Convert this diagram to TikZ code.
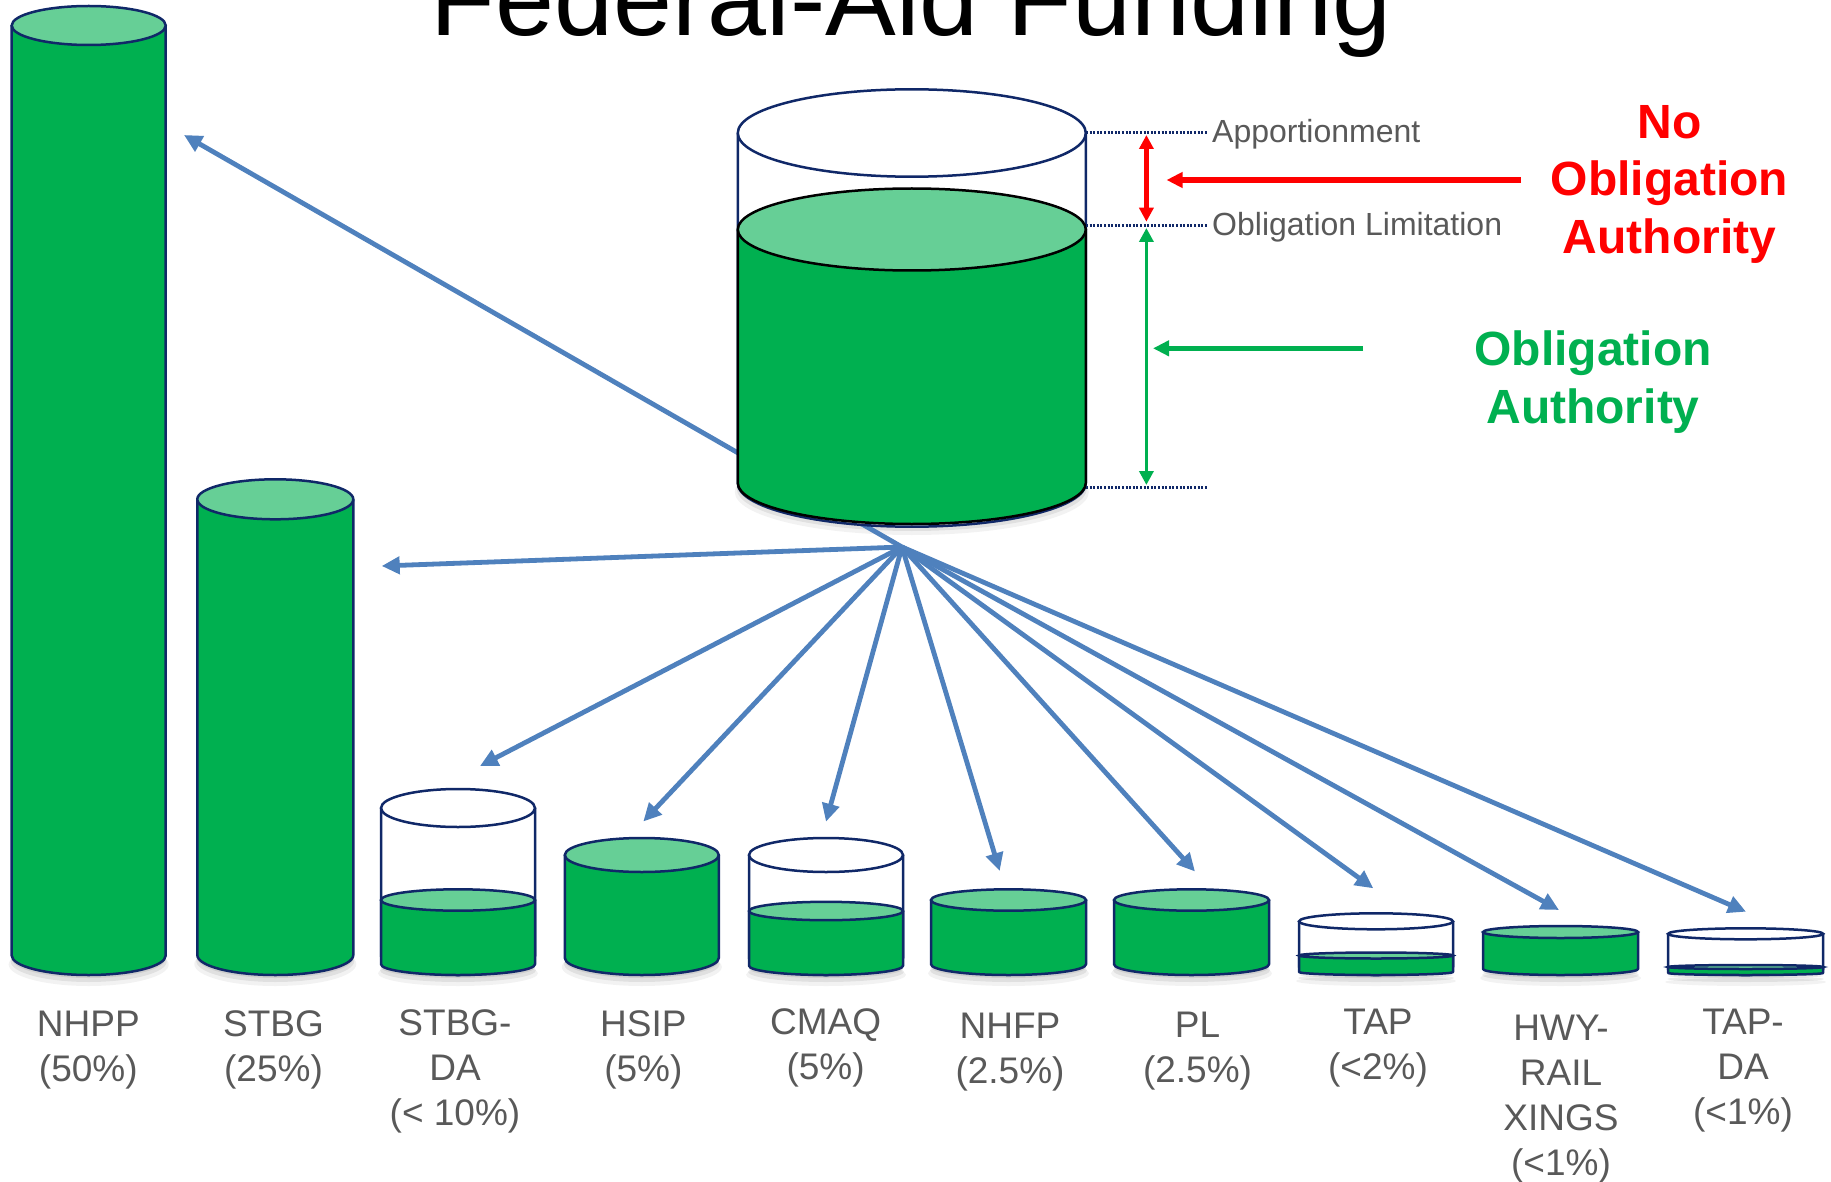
\documentclass[tikz,border=0pt]{standalone}
\usepackage{fontspec}
\setmainfont{Liberation Sans}
\usetikzlibrary{arrows.meta}
\definecolor{cgreen}{HTML}{00B050}
\definecolor{ctop}{HTML}{66CF96}
\definecolor{cnavy}{HTML}{102868}
\definecolor{cblue}{HTML}{4F81BD}
\definecolor{cgray}{HTML}{595959}
\definecolor{cred}{HTML}{FF0000}
% cx, yt, yb, rx, ry, body fill, top fill, line colour
\newcommand{\mycan}[8]{%
  \fill[#6] (#1-#4,#2) -- (#1-#4,#3) arc[start angle=180,end angle=360,x radius=#4pt,y radius=#5pt] -- (#1+#4,#2) -- cycle;
  \draw[#8, line width=2.5pt, line join=round] (#1-#4,#2) -- (#1-#4,#3) arc[start angle=180,end angle=360,x radius=#4pt,y radius=#5pt] -- (#1+#4,#2);
  \filldraw[fill=#7, draw=#8, line width=2.5pt] (#1,#2) ellipse [x radius=#4pt, y radius=#5pt];
}
% cx, yb, rx, ry
\newcommand{\myshadow}[4]{%
  \fill[black, opacity=0.05] (#1,#2+9) ellipse [x radius=#3pt+3pt, y radius=#4pt+2pt];
  \fill[black, opacity=0.07] (#1,#2+6) ellipse [x radius=#3pt+1pt, y radius=#4pt+1pt];
  \fill[black, opacity=0.08] (#1,#2+3) ellipse [x radius=#3pt, y radius=#4pt];
}
\tikzset{
  bluearrow/.style={draw=cblue, line width=4.8pt, -{Triangle[length=18pt,width=17pt]}},
  guide/.style={draw=cnavy, line width=2.5pt, dash pattern=on 2pt off 1.6pt},
  canlabel/.style={font=\fontsize{37}{45}\selectfont, text=cgray, align=center, anchor=north, inner sep=0pt},
  sidelabel/.style={font=\fontsize{32}{38}\selectfont, text=cgray, anchor=base west, inner sep=0pt},
  bigred/.style={font=\fontsize{48}{57.8}\selectfont\bfseries, text=cred, align=center, anchor=north, inner sep=0pt},
  biggreen/.style={font=\fontsize{48}{57.7}\selectfont\bfseries, text=cgreen, align=center, anchor=north, inner sep=0pt},
}
\begin{document}
\begin{tikzpicture}[x=1pt,y=-1pt]
\useasboundingbox (0,0) rectangle (1831,1182);
\fill[white] (0,0) rectangle (1831,1182);

% shadows
\myshadow{88.7}{955.5}{77}{19.5}
\myshadow{275.3}{955}{78}{20}
\myshadow{458}{964.3}{77}{10.7}
\myshadow{641.8}{958}{77}{17}
\myshadow{826}{965.8}{77}{9.2}
\myshadow{1008.5}{964.3}{77.5}{10.7}
\myshadow{1191.5}{964.3}{77.5}{10.7}
\myshadow{1376}{972}{77}{3}
\myshadow{1560.5}{969}{77.5}{6}
\myshadow{1745.6}{973}{77.5}{2}
\myshadow{911.8}{483}{174}{41}

% hub and arrow tips
\coordinate (hub) at (902,547);
\coordinate (tNHPP) at (184,135);
\coordinate (tSTBG) at (381.7,566);
\coordinate (tSTBGDA) at (480,766);
\coordinate (tHSIP) at (643.3,821.5);
\coordinate (tCMAQ) at (826,821.7);
\coordinate (tNHFP) at (999.7,871);
\coordinate (tPL) at (1195,871.5);
\coordinate (tTAP) at (1373.3,888.3);
\coordinate (tHWY) at (1559,910);
\coordinate (tTAPDA) at (1746,911.7);
\foreach \t in {tNHPP,tSTBG,tSTBGDA,tHSIP,tCMAQ,tNHFP,tPL,tTAP,tHWY,tTAPDA}
  \draw[bluearrow] (hub) -- (\t);

% program cans
\mycan{88.7}{25.5}{955.5}{77}{19.5}{cgreen}{ctop}{cnavy}
\mycan{275.3}{499.3}{955}{78}{20}{cgreen}{ctop}{cnavy}
\mycan{458}{808}{956}{77}{19}{white}{white}{cnavy}
\mycan{458}{900}{964.3}{77}{10.7}{cgreen}{ctop}{cnavy}
\mycan{641.8}{855}{958}{77}{17}{cgreen}{ctop}{cnavy}
\mycan{826}{855}{958}{77}{17}{white}{white}{cnavy}
\mycan{826}{911}{965.8}{77}{9.2}{cgreen}{ctop}{cnavy}
\mycan{1008.5}{900}{964.3}{77.5}{10.7}{cgreen}{ctop}{cnavy}
\mycan{1191.5}{900}{964.3}{77.5}{10.7}{cgreen}{ctop}{cnavy}
\mycan{1376}{921.3}{967}{77}{8}{white}{white}{cnavy}
\mycan{1376}{955.5}{972}{77}{3}{cgreen}{ctop}{cnavy}
\mycan{1560.5}{932}{969}{77.5}{6}{cgreen}{ctop}{cnavy}
\mycan{1745.6}{933.8}{969.5}{77.5}{5.5}{white}{white}{cnavy}
\mycan{1745.6}{967}{973}{77.5}{2}{cgreen}{ctop}{cnavy}

% main funding cylinder
\mycan{911.8}{133}{483}{174}{43.7}{white}{white}{cnavy}
\mycan{911.8}{229.5}{483}{174}{41}{cgreen}{ctop}{black}

% guide lines
\coordinate (gA1) at (1086,132.7); \coordinate (gA2) at (1207,132.7);
\coordinate (gB1) at (1086,225.7); \coordinate (gB2) at (1207,225.7);
\coordinate (gC1) at (1086,487.3); \coordinate (gC2) at (1207,487.3);
\draw[guide] (gA1) -- (gA2);
\draw[guide] (gB1) -- (gB2);
\draw[guide] (gC1) -- (gC2);

% dimension arrows
\coordinate (rTop) at (1146.4,135); \coordinate (rBot) at (1146.4,221.7);
\coordinate (gTop) at (1146.4,228); \coordinate (gBot) at (1146.4,485);
\draw[cred, line width=4.2pt, {Triangle[length=14pt,width=14pt]}-{Triangle[length=14pt,width=14pt]}] (rTop) -- (rBot);
\draw[cgreen, line width=3.6pt, {Triangle[length=14pt,width=14pt]}-{Triangle[length=14pt,width=14pt]}] (gTop) -- (gBot);
\coordinate (rS) at (1521,180); \coordinate (rE) at (1166.5,180);
\coordinate (grS) at (1363,348.3); \coordinate (grE) at (1153,348.3);
\draw[cred, line width=5.3pt, -{Triangle[length=16pt,width=15pt]}] (rS) -- (rE);
\draw[cgreen, line width=5pt, -{Triangle[length=16pt,width=15pt]}] (grS) -- (grE);

% texts
\node[font=\fontsize{106}{120}\selectfont, anchor=base, inner sep=0pt] (title) at (911,36) {Federal-Aid Funding};
\node[sidelabel] (appt) at (1212,143) {Apportionment};
\node[sidelabel] (oblim) at (1212,236) {Obligation Limitation};
\node[bigred] (noa) at (1669.5,104.9) {No\\Obligation\\Authority};
\node[biggreen] (oa) at (1593,330.7) {Obligation\\Authority};

\node[canlabel] (lNHPP) at (88.3,1010.5) {NHPP\\(50\%)};
\node[canlabel] (lSTBG) at (273.5,1010.5) {STBG\\(25\%)};
\node[canlabel] (lSTBGDA) at (455,1009.5) {STBG-\\DA\\(< 10\%)};
\node[canlabel] (lHSIP) at (643.4,1010.5) {HSIP\\(5\%)};
\node[canlabel] (lCMAQ) at (825.6,1008.5) {CMAQ\\(5\%)};
\node[canlabel] (lNHFP) at (1010,1012.5) {NHFP\\(2.5\%)};
\node[canlabel] (lPL) at (1197.5,1011.5) {PL\\(2.5\%)};
\node[canlabel] (lTAP) at (1378,1008.5) {TAP\\(<2\%)};
\node[canlabel] (lHWY) at (1561,1014.5) {HWY-\\RAIL\\XINGS\\(<1\%)};
\node[canlabel] (lTAPDA) at (1743,1008.5) {TAP-\\DA\\(<1\%)};
\end{tikzpicture}
\end{document}
